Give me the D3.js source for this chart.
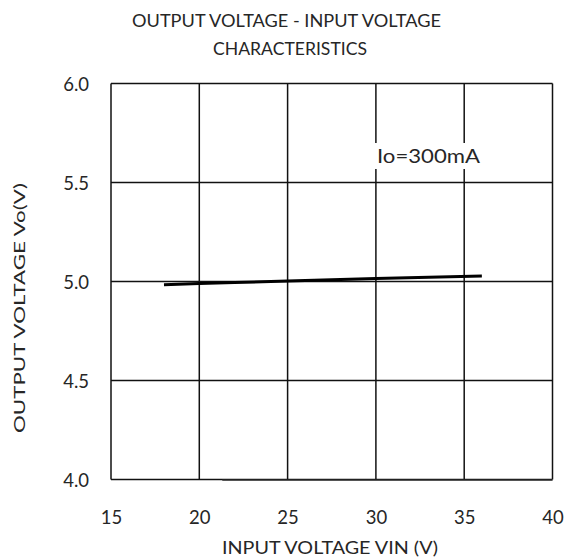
<!DOCTYPE html>
<html><head><meta charset="utf-8">
<script src="https://cdn.jsdelivr.net/npm/d3@7"></script>
<style>body{margin:0;background:#fff}svg{display:block}text{font-family:Lato,"Open Sans",sans-serif;fill:#262626}</style>
</head><body><svg id="c" width="565" height="559"></svg>
<script>
const xTicks = [15, 20, 25, 30, 35, 40];
const yTicks = [4.0, 4.5, 5.0, 5.5, 6.0];
const vin = [18, 20, 22, 25, 28, 30, 33, 36];
const vout = [4.984, 4.99, 4.995, 5.002, 5.01, 5.015, 5.022, 5.028];
const titleLines = ["OUTPUT VOLTAGE - INPUT VOLTAGE", "CHARACTERISTICS"];
const xLabel = "INPUT VOLTAGE VIN (V)";
const yLabel = "OUTPUT VOLTAGE Vo(V)";
const note = "Io=300mA";

const FONT = "Lato,'Open Sans',sans-serif";
const svg = d3.select("#c");
const L = 111, R = 552.5, T = 83.5, B = 479.5;
const x = d3.scaleLinear().domain([15, 40]).range([L, R]);
const y = d3.scaleLinear().domain([4, 6]).range([B, T]);

// grid
const g = svg.append("g");
g.selectAll("line.v").data(xTicks).join("line")
  .attr("x1", d => x(d)).attr("x2", d => x(d)).attr("y1", T).attr("y2", B)
  .attr("stroke", "#111").attr("stroke-width", 1.5);
g.selectAll("line.h").data(yTicks).join("line")
  .attr("y1", d => y(d)).attr("y2", d => y(d)).attr("x1", L).attr("x2", R)
  .attr("stroke", "#111").attr("stroke-width", 1.5);
// thicker bottom segment
g.append("line").attr("x1", x(21.3)).attr("x2", R).attr("y1", y(4) + 0.8).attr("y2", y(4) + 0.8)
  .attr("stroke", "#555").attr("stroke-width", 1.2);

// tick labels via d3 axes (no domain/ticks)
const xa = svg.append("g").attr("transform", `translate(0,${B})`)
  .call(d3.axisBottom(x).tickValues(xTicks).tickSize(0).tickPadding(0).tickFormat(d3.format("d")));
xa.select(".domain").remove();
xa.selectAll("text").attr("font-size", 18.5).attr("dy", null).attr("y", 44)
  .style("font-family", FONT).attr("fill", "#262626");
const ya = svg.append("g").attr("transform", `translate(${L},0)`)
  .call(d3.axisLeft(y).tickValues(yTicks).tickSize(0).tickPadding(22).tickFormat(d3.format(".1f")));
ya.select(".domain").remove();
ya.selectAll("text").attr("font-size", 18.5).attr("dy", null).attr("y", 6.5)
  .style("font-family", FONT).attr("fill", "#262626");

// data line
svg.append("path").datum(vin.map((v, i) => [v, vout[i]]))
  .attr("d", d3.line().x(d => x(d[0])).y(d => y(d[1])))
  .attr("fill", "none").attr("stroke", "#000").attr("stroke-width", 3);

// note with white background
const ng = svg.append("g");
const nt = ng.append("text").attr("x", 377).attr("y", 163).attr("font-size", 18.5)
  .attr("textLength", 103).attr("lengthAdjust", "spacingAndGlyphs").text(note);
const bb = nt.node().getBBox();
ng.insert("rect", "text").attr("x", bb.x - 2).attr("y", bb.y - 2).attr("width", bb.width + 4).attr("height", bb.height + 4).attr("fill", "#fff");

// titles
const tw = [309, 154], tc = [286.5, 290];
svg.selectAll("text.title").data(titleLines).join("text").attr("class", "title")
  .attr("x", (d, i) => tc[i]).attr("y", (d, i) => 26.5 + i * 28.5).attr("text-anchor", "middle").attr("font-size", 17.5)
  .attr("textLength", (d, i) => tw[i]).attr("lengthAdjust", "spacingAndGlyphs").text(d => d);
svg.append("text").attr("x", 330).attr("y", 554).attr("text-anchor", "middle").attr("font-size", 17.5)
  .attr("textLength", 216).attr("lengthAdjust", "spacingAndGlyphs").text(xLabel);
svg.append("text").attr("transform", "translate(24.5,308) rotate(-90)").attr("text-anchor", "middle").attr("font-size", 16)
  .attr("textLength", 250).attr("lengthAdjust", "spacingAndGlyphs").text(yLabel);
</script></body></html>
